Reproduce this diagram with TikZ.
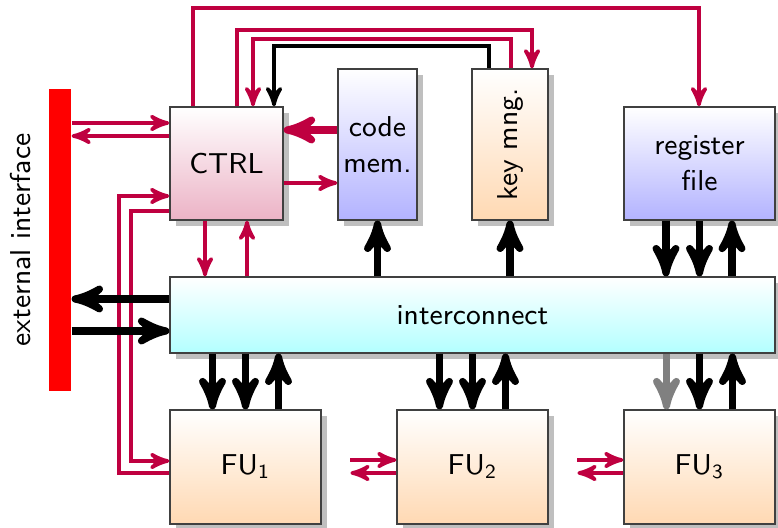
\documentclass[tikz,border=0pt]{standalone}
\usepackage{tikz}
\usetikzlibrary{arrows,calc,shadows}

\tikzset{
  unit/.style={draw=black!75,line width=0.4pt,inner sep=0pt,align=center,top color=white,
    drop shadow={shadow xshift=1.9pt,shadow yshift=-1.9pt,fill=black!25,opacity=1}},
  ctl/.style={draw=purple,line width=1.15pt,-stealth'},
  bus/.style={line width=2.3pt,-stealth'}
}

\begin{document}
\begin{tikzpicture}[x=0.32pt,y=-0.32pt,font=\fontsize{9.2}{11.5}\selectfont\sffamily]
   \useasboundingbox (0,0) rectangle (778,528);
   \node[fill=red,inner sep=0pt,minimum width=7pt,minimum height=96.6pt] (bar) at (60,240) {};
   \node[rotate=90] (extif) at (21,240) {external interface};
   \node[unit,bottom color=purple!30,minimum width=36.2pt,minimum height=36.2pt] (ctrl) at (226.5,163.5) {CTRL};
   \node[unit,bottom color=blue!30,minimum width=25.3pt,minimum height=48.3pt] (codemem) at (377.5,144.5) {code\\mem.};
   \node[unit,bottom color=orange!30,minimum width=24.3pt,minimum height=48.3pt] (keymng) at (510,144.5) {\rotatebox{90}{key mng.}};
   \node[unit,bottom color=blue!30,minimum width=48.3pt,minimum height=36.2pt] (regfile) at (699.5,163.5) {register\\file};
   \node[unit,bottom color=cyan!30,minimum width=193.6pt,minimum height=24.3pt] (inter) at (472.5,315) {interconnect};
   \foreach \i/\x in {1/245.5,2/472.5,3/699.5}
      \node[unit,bottom color=orange!30,minimum width=48.3pt,minimum height=36.5pt] (fu\i) at (\x,467) {FU\textsubscript{\i}};
   \coordinate (fu12) at ($(fu2.west)+(-46,0)$);
   \coordinate (fu23) at ($(fu3.west)+(-46,0)$);

   \draw[ctl] (bar.east |- 0,123) -- (ctrl.west |- 0,123);
   \draw[ctl] (ctrl.west |- 0,136) -- (bar.east |- 0,136);
   \draw[ctl] (fu1.west |- 0,473) -| (119,196) -- (ctrl.west |- 0,196);
   \draw[ctl] (ctrl.west |- 0,211) -| (131,461) -- (fu1.west |- 0,461);
   \draw[ctl] (ctrl.south -| 205,0) -- (inter.north -| 205,0);
   \draw[ctl] (inter.north -| 247,0) -- (ctrl.south -| 247,0);
   \draw[ctl,line width=2.3pt] (codemem.west |- 0,130) -- (ctrl.east |- 0,130);
   \draw[ctl] (ctrl.east |- 0,183) -- (codemem.west |- 0,183);
   \draw[ctl] (ctrl.north -| 193,0) |- (699,8) -- (regfile.north -| 699,0);
   \draw[ctl] (ctrl.north -| 237,0) |- (532,30) -- (keymng.north -| 532,0);
   \draw[ctl] (keymng.north -| 511,0) |- (253,39) -- (ctrl.north -| 253,0);
   \draw[ctl,draw=black] (keymng.north -| 489,0) |- (274,46) -- (ctrl.north -| 274,0);
   \draw[ctl] ($(fu12)+(0,-7)$) -- ($(fu2.west)+(0,-7)$);
   \draw[ctl] ($(fu2.west)+(0,6)$) -- ($(fu12)+(0,6)$);
   \draw[ctl] ($(fu23)+(0,-7)$) -- ($(fu3.west)+(0,-7)$);
   \draw[ctl] ($(fu3.west)+(0,6)$) -- ($(fu23)+(0,6)$);

   \draw[bus] (inter.north -| codemem.south) -- (codemem.south);
   \draw[bus] (inter.north -| keymng.south) -- (keymng.south);
   \draw[bus] (regfile.south -| 666,0) -- (inter.north -| 666,0);
   \draw[bus] (regfile.south) -- (inter.north -| regfile.south);
   \draw[bus] (inter.north -| 732,0) -- (regfile.south -| 732,0);
   \draw[bus] (inter.west |- 0,299) -- (bar.east |- 0,299);
   \draw[bus] (bar.east |- 0,331) -- (inter.west |- 0,331);
   \foreach \i/\col in {1/black,2/black,3/gray} {
      \draw[bus,\col] ($(inter.south -| fu\i.north)+(-33,0)$) -- ($(fu\i.north)+(-33,0)$);
      \draw[bus] (inter.south -| fu\i.north) -- (fu\i.north);
      \draw[bus] ($(fu\i.north)+(33,0)$) -- ($(inter.south -| fu\i.north)+(33,0)$);
   }
\end{tikzpicture}
\end{document}
